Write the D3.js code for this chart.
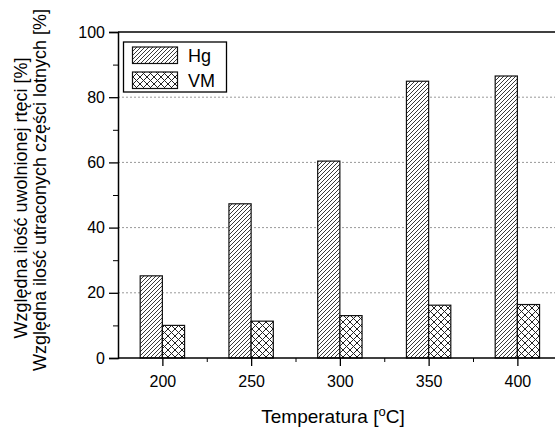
<!DOCTYPE html>
<html><head><meta charset="utf-8">
<script src="https://cdn.jsdelivr.net/npm/d3@7"></script>
<style>body{margin:0;background:#fff}svg{display:block;font-family:"Liberation Sans",Arial,sans-serif}</style>
</head><body><svg id="c" width="555" height="428"></svg>
<script>
const temps = [200, 250, 300, 350, 400];
const hg = [25.2, 47.3, 60.4, 84.9, 86.5];
const vm = [10.0, 11.3, 13.0, 16.2, 16.4];
const yTicks = [0, 20, 40, 60, 80, 100];
const seriesNames = ["Hg", "VM"];

const svg = d3.select("#c");
const x = d3.scaleLinear().domain([175, 425]).range([118, 561.75]);
const y = d3.scaleLinear().domain([0, 100]).range([358, 32]);
const bw = 12.5;

const defs = svg.append("defs");
const p1 = defs.append("pattern").attr("id","hatch").attr("patternUnits","userSpaceOnUse").attr("width",4).attr("height",4);
p1.append("rect").attr("width",4).attr("height",4).attr("fill","#fff");
p1.append("path").attr("d","M-1,1 L1,-1 M0,4 L4,0 M3,5 L5,3").attr("stroke","#222").attr("stroke-width",0.9);
const p2 = defs.append("pattern").attr("id","cross").attr("patternUnits","userSpaceOnUse").attr("width",7).attr("height",7);
p2.append("rect").attr("width",7).attr("height",7).attr("fill","#fff");
p2.append("path").attr("d","M0,0 L7,7 M0,7 L7,0").attr("stroke","#222").attr("stroke-width",1);

// grid
svg.append("g").selectAll("line").data(yTicks.filter(d=>d>0&&d<100)).join("line")
  .attr("x1",118).attr("x2",555).attr("y1",d=>y(d)).attr("y2",d=>y(d))
  .attr("stroke","#999").attr("stroke-dasharray","2,2").attr("stroke-width",1);

// bars
const g = svg.append("g");
g.selectAll(".hg").data(temps).join("rect")
  .attr("x",(d)=>x(d-bw)).attr("width",x(bw)-x(0))
  .attr("y",(d,i)=>y(hg[i])).attr("height",(d,i)=>y(0)-y(hg[i]))
  .attr("fill","url(#hatch)").attr("stroke","#111").attr("stroke-width",1.2);
g.selectAll(".vm").data(temps).join("rect")
  .attr("x",(d)=>x(d)).attr("width",x(bw)-x(0))
  .attr("y",(d,i)=>y(vm[i])).attr("height",(d,i)=>y(0)-y(vm[i]))
  .attr("fill","url(#cross)").attr("stroke","#111").attr("stroke-width",1.2);

// axes
const yAxis = d3.axisLeft(y).tickValues(yTicks).tickSize(9).tickPadding(4);
const ya = svg.append("g").attr("transform","translate(118,0)").call(yAxis);
ya.select(".domain").attr("stroke-width",1.5);
ya.selectAll("text").attr("font-size",16).attr("fill","#000").attr("font-family","Liberation Sans, Arial, sans-serif");
ya.selectAll(".tick line").attr("stroke-width",1.3);
svg.append("g").attr("transform","translate(118,0)")
  .call(d3.axisLeft(y).tickValues(d3.range(10,100,20)).tickSize(5).tickFormat(""))
  .call(s=>s.select(".domain").remove());

const xAxis = d3.axisBottom(x).tickValues(temps).tickSize(8).tickPadding(10);
const xa = svg.append("g").attr("transform","translate(0,358)").call(xAxis);
xa.select(".domain").attr("d","M118,0H555").attr("stroke-width",1.5);
xa.selectAll("text").attr("font-size",16).attr("fill","#000").attr("font-family","Liberation Sans, Arial, sans-serif");
xa.selectAll(".tick line").attr("stroke-width",1.3);
svg.append("g").attr("transform","translate(0,358)")
  .call(d3.axisBottom(x).tickValues(d3.range(225,425,50)).tickSize(4).tickFormat(""))
  .call(s=>s.select(".domain").remove());

// top frame
svg.append("line").attr("x1",118).attr("x2",555).attr("y1",32).attr("y2",32).attr("stroke","#000").attr("stroke-width",1.5);

// legend
const lg = svg.append("g");
lg.append("rect").attr("x",123.5).attr("y",42).attr("width",103).attr("height",50).attr("fill","#fff").attr("stroke","#000").attr("stroke-width",1.3);
const fills = ["url(#hatch)","url(#cross)"];
seriesNames.forEach((n,i)=>{
  lg.append("rect").attr("x",132.5).attr("y",47+i*25).attr("width",45).attr("height",16.5)
    .attr("fill",fills[i]).attr("stroke","#111").attr("stroke-width",1.2);
  lg.append("text").attr("x",188).attr("y",62+i*25).attr("font-size",18).text(n);
});

// titles
const xt = svg.append("text").attr("x",333).attr("y",422.5).attr("text-anchor","middle").attr("font-size",19);
xt.append("tspan").text("Temperatura [");
xt.append("tspan").attr("font-size",13).attr("dy",-7).text("o");
xt.append("tspan").attr("dy",7).text("C]");

svg.append("text").attr("transform","translate(26.5,198) rotate(-90)").attr("text-anchor","middle").attr("font-size",18)
  .text("Względna ilość uwolnionej rtęci [%]");
svg.append("text").attr("transform","translate(46,190) rotate(-90)").attr("text-anchor","middle").attr("font-size",18)
  .text("Względna ilość utraconych części lotnych [%]");
</script></body></html>
